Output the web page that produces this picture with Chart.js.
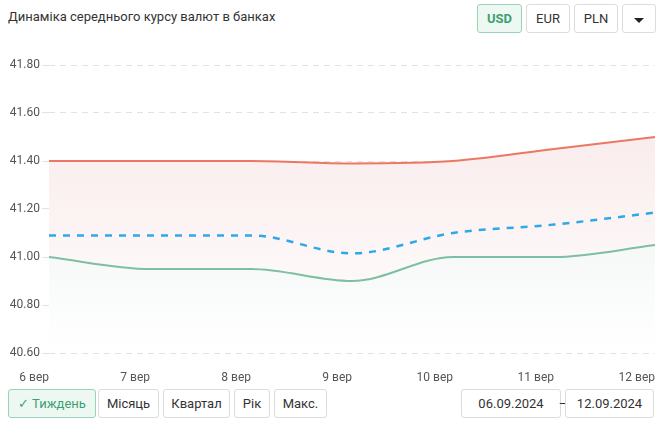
<!DOCTYPE html>
<html>
<head>
<meta charset="utf-8">
<script src="https://cdn.jsdelivr.net/npm/chart.js@4"></script>
<style>
    body { margin: 0; width: 668px; height: 427px; background: #fff; font-family: Roboto, "Noto Sans", sans-serif; position: relative; overflow: hidden; }
    #title { position: absolute; left: 8px; top: 9px; font-size: 13px; color: #333; }
    .btn { position: absolute; box-sizing: border-box; height: 29px; border: 1px solid #dcdcdc; border-radius: 3px; background: #fff; color: #333; font-size: 13px; display: flex; align-items: center; justify-content: center; }
    .btn.on { background: #eef8f3; border-color: #9ad4b6; color: #3d9f71; }
    #chartwrap { position: absolute; left: 0; top: 45px; width: 668px; height: 340px; }
    .caret { width: 0; height: 0; border-left: 5px solid transparent; border-right: 5px solid transparent; border-top: 5px solid #222; margin-top: 3px; }
</style>
</head>
<body>
<div id="title">Динаміка середнього курсу валют в банках</div>
<div class="btn on" style="left:477px;top:4px;width:45px;font-weight:bold">USD</div>
<div class="btn" style="left:526px;top:4px;width:44px">EUR</div>
<div class="btn" style="left:574px;top:4px;width:44px">PLN</div>
<div class="btn" style="left:622px;top:4px;width:34px"><div class="caret"></div></div>

<div id="chartwrap"><canvas id="chart"></canvas></div>

<div class="btn on" style="left:8px;top:389px;width:88px">✓ Тиждень</div>
<div class="btn" style="left:98px;top:389px;width:61px">Місяць</div>
<div class="btn" style="left:163px;top:389px;width:67px">Квартал</div>
<div class="btn" style="left:234px;top:389px;width:36px">Рік</div>
<div class="btn" style="left:274px;top:389px;width:53px">Макс.</div>
<div class="btn" style="left:461px;top:389px;width:100px">06.09.2024</div>
<div style="position:absolute;left:556px;top:396px;width:14px;text-align:center;font-size:13px;color:#333">–</div>
<div class="btn" style="left:565px;top:389px;width:89px">12.09.2024</div>

<script>
const labels = ["6 вер", "7 вер", "8 вер", "9 вер", "10 вер", "11 вер", "12 вер"];
const sellRate = [41.40, 41.40, 41.40, 41.39, 41.40, 41.45, 41.50];
const avgRate = [41.09, 41.09, 41.09, 41.015, 41.10, 41.135, 41.185];
const buyRate = [41.00, 40.95, 40.95, 40.90, 41.00, 41.00, 41.05];
const yTicks = [40.6, 40.8, 41.0, 41.2, 41.4, 41.6, 41.8];

function grad(ctx, top, bottom) {
    const area = ctx.chart.chartArea;
    if (!area) return top;
    const g = ctx.chart.ctx.createLinearGradient(0, area.top, 0, area.bottom);
    g.addColorStop(0, top);
    g.addColorStop(1, bottom);
    return g;
}

new Chart('chart', {
    type: 'line',
    data: {
        labels: labels,
        datasets: [{
            data: buyRate,
            borderColor: '#7dbfa3',
            borderWidth: 2,
            fill: 'start',
            backgroundColor: (ctx) => grad(ctx, '#e6eeeb', '#ffffff'),
        }, {
            data: avgRate,
            borderColor: '#2fa8e6',
            borderWidth: 2.5,
            borderDash: [7, 7],
            fill: false,
        }, {
            data: sellRate,
            borderColor: '#ea7862',
            borderWidth: 2,
            fill: 'start',
            backgroundColor: (ctx) => grad(ctx, '#f8e6e6', '#ffffff'),
        }]
    },
    options: {
        responsive: true,
        maintainAspectRatio: false,
        animation: false,
        layout: { padding: { left: 0, right: 13, top: 20, bottom: 2 } },
        elements: {
            point: { radius: 0 },
            line: { cubicInterpolationMode: 'monotone' }
        },
        plugins: { legend: { display: false }, tooltip: { enabled: false } },
        scales: {
            x: {
                grid: { display: false },
                border: { display: false },
                ticks: { align: 'end', padding: 10, color: '#555', font: { family: 'Roboto', size: 12 }, maxRotation: 0 },
                afterFit: (s) => { s.height = 30; }
            },
            y: {
                min: 40.6,
                max: 41.8,
                afterBuildTicks: (s) => { s.ticks = yTicks.map(v => ({ value: v })); },
                grid: { color: '#e2e2e2', tickLength: 7 },
                border: { display: false, dash: [6, 5] },
                ticks: { padding: 2, color: '#555', font: { family: 'Roboto', size: 12 }, callback: (v) => v.toFixed(2) },
                afterFit: (s) => { s.width = 49; }
            }
        }
    }
});
</script>
</body>
</html>
